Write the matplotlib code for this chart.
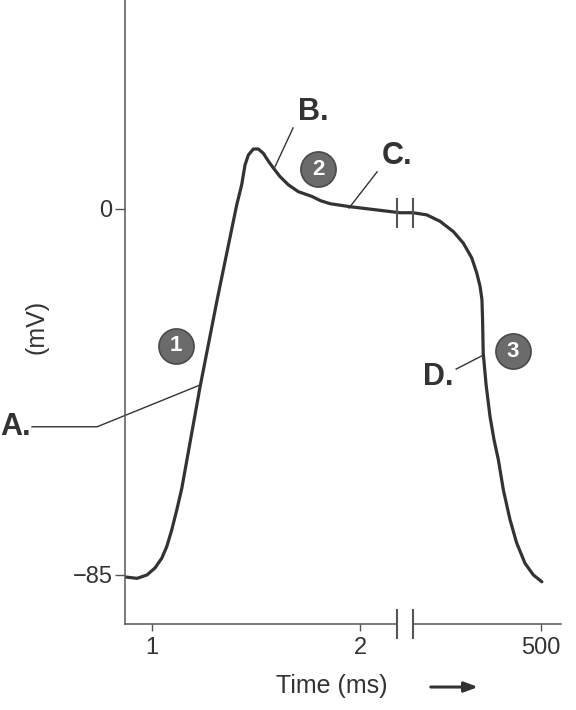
import matplotlib
matplotlib.use("Agg")
import matplotlib.pyplot as plt
import matplotlib.transforms as mtransforms

plt.rcParams['font.family'] = ['Liberation Sans', 'DejaVu Sans']

# positions along the (broken) time axis; 1 and 2 ms, then break, then 500 ms
t_pos = [0.875, 0.928, 0.976, 1.014, 1.047, 1.071, 1.095, 1.119, 1.143, 1.159,
         1.231, 1.313, 1.407, 1.431, 1.447, 1.463, 1.487, 1.511, 1.535, 1.559,
         1.583, 1.615, 1.655, 1.703, 1.768, 1.810, 1.856, 1.952, 2.072, 2.192, 2.255,
         2.321, 2.385, 2.449, 2.497, 2.537, 2.561, 2.577, 2.586, 2.589, 2.592,
         2.606, 2.625, 2.644, 2.665, 2.689, 2.721, 2.753, 2.793, 2.833, 2.874]
mv = [-85.5, -85.8, -85.0, -83.4, -81.1, -78.4, -74.5, -69.9, -64.9, -60.6,
      -41.3, -21.1, 0.9, 5.6, 10.2, 12.5, 13.9, 13.9, 12.9, 11.1,
      9.5, 7.5, 5.6, 4.0, 2.9, 1.9, 1.2, 0.5, -0.2, -0.9, -0.9,
      -1.4, -2.9, -5.3, -8.0, -11.4, -14.9, -18.0, -21.1, -25.8, -33.4,
      -40.9, -48.3, -53.6, -58.3, -65.3, -72.2, -77.6, -82.3, -85.0, -86.6]

xtick_pos = [1, 2, 2.87]
xtick_labels = ['1', '2', '500']
ytick_vals = [0, -85]
break_pos = [2.178, 2.255]

# phase markers
phase_nums = ['1', '2', '3']
phase_x = [1.115, 1.800, 2.734]
phase_y = [-31.8, 9.2, -33.1]

# letter labels and leader lines
letters = ['A.', 'B.', 'C.', 'D.']
letter_x = [0.418, 1.774, 2.178, 2.375]
letter_y = [-50.6, 22.5, 12.3, -39.0]
letter_ha = ['right', 'center', 'center', 'center']
leaders = [
    ([0.423, 0.736, 1.231], [-50.6, -50.6, -40.9]),
    ([1.678, 1.591], [18.8, 9.75]),
    ([2.082, 1.947], [8.6, 0.2]),
    ([2.462, 2.587], [-37.2, -34.1]),
]

dark = '#333333'
axcol = '#555555'

fig = plt.figure(figsize=(5.76, 7.10), dpi=100)
ax = fig.add_axes([125/576, 86/710, 436/576, 624/710])
ax.set_xlim(0.870, 2.966)
ax.set_ylim(-96.4, 48.5)

for s in ['top', 'right', 'bottom']:
    ax.spines[s].set_visible(False)
ax.spines['left'].set_color(axcol)
ax.spines['left'].set_linewidth(1.1)

# broken x axis
trans = mtransforms.blended_transform_factory(ax.transData, ax.transAxes)
ax.plot([0.870, break_pos[0]], [0, 0], color=axcol, lw=1.1, transform=trans, clip_on=False)
ax.plot([break_pos[1], 2.966], [0, 0], color=axcol, lw=1.1, transform=trans, clip_on=False)
for b in break_pos:
    ax.plot([b, b], [-0.0224, 0.0224], color=axcol, lw=1.5, transform=trans, clip_on=False)

ax.set_xticks(xtick_pos)
ax.set_xticklabels(xtick_labels)
ax.set_yticks(ytick_vals)
ax.set_yticklabels(['0', '\u221285'])
ax.tick_params(axis='x', length=5, width=1, color=axcol, pad=4, labelsize=17, labelcolor=dark)
ax.tick_params(axis='y', length=7, width=1, color=axcol, pad=2, labelsize=17, labelcolor=dark)

# action potential
ax.plot(t_pos, mv, color=dark, lw=2.3, solid_capstyle='round', solid_joinstyle='round')

# break marks on the curve
for b in break_pos:
    ax.plot([b, b], [2.4, -4.2], color=axcol, lw=1.5)

# leaders and letters
for (lx, ly) in leaders:
    ax.plot(lx, ly, color=dark, lw=1.0, clip_on=False)
for txt, x, y, ha in zip(letters, letter_x, letter_y, letter_ha):
    ax.text(x, y, txt, ha=ha, va='center', fontsize=22, fontweight='bold',
            color=dark, clip_on=False)

# numbered circles
ax.scatter(phase_x, phase_y, s=640, color='#6b6b6b', edgecolor='#4a4a4a',
           linewidth=1.2, zorder=5)
for n, x, y in zip(phase_nums, phase_x, phase_y):
    ax.text(x, y, n, ha='center', va='center', fontsize=16, fontweight='bold',
            color='white', zorder=6)

ax.text(-0.204, 0.476, '(mV)', transform=ax.transAxes, rotation=90,
        ha='center', va='center', fontsize=18, color=dark)
ax.text(0.475, -0.099, 'Time (ms)', transform=ax.transAxes,
        ha='center', va='center', fontsize=18, color=dark)
ax.annotate('', xy=(0.816, -0.101), xytext=(0.695, -0.101),
            xycoords='axes fraction', textcoords='axes fraction',
            arrowprops=dict(arrowstyle='-|>,head_length=0.8,head_width=0.3',
                            color=dark, lw=2.2))

fig.savefig('out.png', dpi=100)
